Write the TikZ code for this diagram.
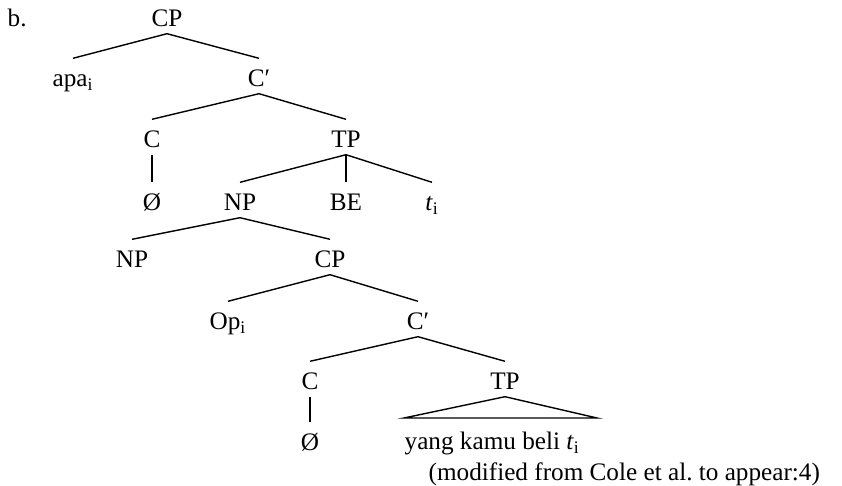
\documentclass[tikz,border=0pt]{standalone}
\usepackage{fontspec}
\setmainfont{Liberation Serif}

\begin{document}
\begin{tikzpicture}[x=0.5pt,y=0.5pt,line width=0.7pt]
\tikzstyle{every node}+=[inner sep=0pt,anchor=base,text height=8.2pt,text depth=3pt,font=\fontsize{12.6}{15}\selectfont]
\useasboundingbox (0,0) rectangle (842,-486);
\node (b) [anchor=base west] at (7,-27) {b.};
\node (cp1) at (167,-27) {CP};
\node (apa) at (73,-87) {apa\textsubscript{i}};
\node (cbar1) at (259,-87) {C′};
\node (c1) at (152,-148) {C};
\node (tp1) at (346,-148) {TP};
\node (null1) at (152,-211) {Ø};
\node (np1) at (240,-211) {NP};
\node (be) at (346,-211) {BE};
\node (t1) at (432,-211) {\textit{t}\textsubscript{i}};
\node (np2) at (132,-268) {NP};
\node (cp2) at (330,-268) {CP};
\node (op) at (228,-330) {Op\textsubscript{i}};
\node (cbar2) at (418,-330) {C′};
\node (c2) at (310,-390) {C};
\node (tp2) at (505,-390) {TP};
\node (null2) at (310,-451) {Ø};
\node (yang) [anchor=base west] at (404,-450) {yang kamu beli \textit{t}\textsubscript{i}};
\node (src) [anchor=base west] at (428,-481) {(modified from Cole et al.\ to appear:4)};
\coordinate (baseL) at (404,-418);
\coordinate (baseR) at (597,-418);
\draw (cp1.south) -- ([yshift=5.8pt]apa.north);
\draw (cp1.south) -- ([yshift=5.8pt]cbar1.north);
\draw (cbar1.south) -- ([yshift=5.8pt]c1.north);
\draw (cbar1.south) -- ([yshift=5.8pt]tp1.north);
\draw (c1.south) -- ([yshift=5.8pt]null1.north);
\draw (tp1.south) -- ([yshift=5.8pt]np1.north);
\draw (tp1.south) -- ([yshift=5.8pt]be.north);
\draw (tp1.south) -- ([yshift=5.8pt]t1.north);
\draw (np1.south) -- ([yshift=5.8pt]np2.north);
\draw (np1.south) -- ([yshift=5.8pt]cp2.north);
\draw (cp2.south) -- ([yshift=5.8pt]op.north);
\draw (cp2.south) -- ([yshift=5.8pt]cbar2.north);
\draw (cbar2.south) -- ([yshift=5.8pt]c2.north);
\draw (cbar2.south) -- ([yshift=5.8pt]tp2.north);
\draw (c2.south) -- ([yshift=5.8pt]null2.north);
\draw (baseL) -- (tp2.south) -- (baseR) -- cycle;
\end{tikzpicture}
\end{document}
